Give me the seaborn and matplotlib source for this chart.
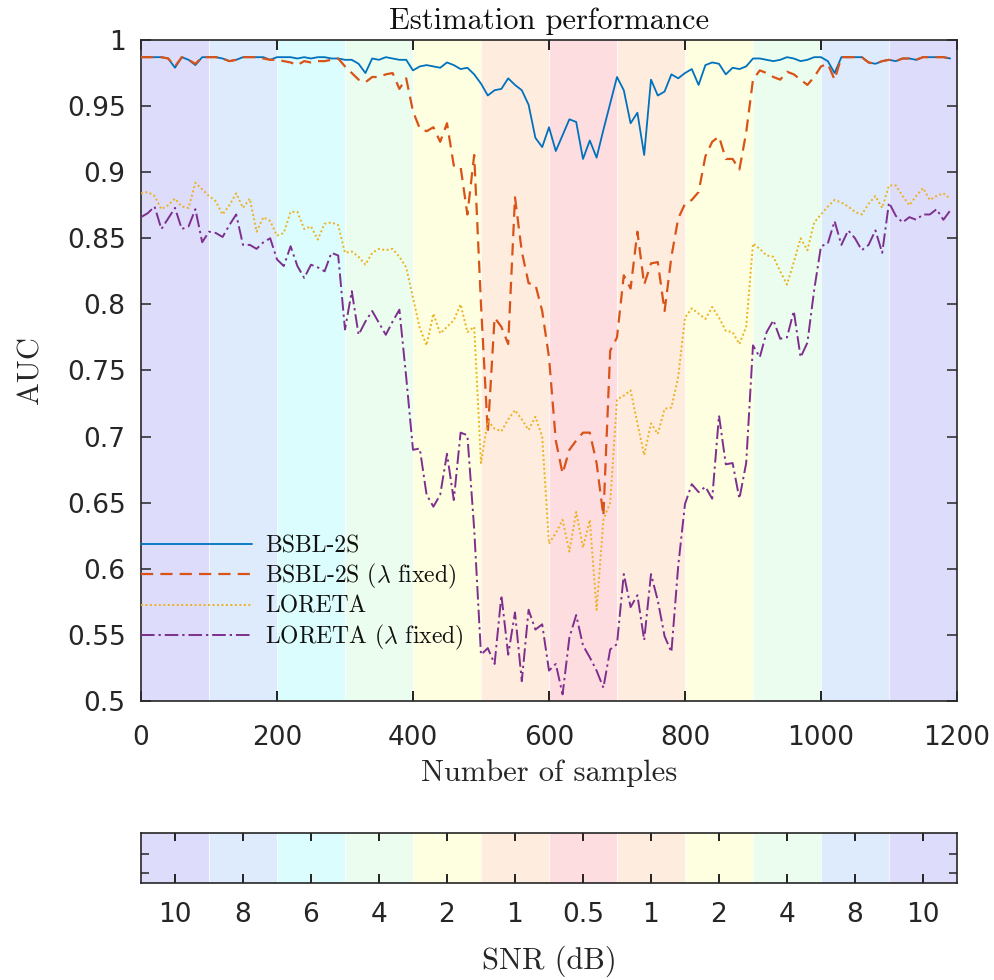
import numpy as np
import pandas as pd
import matplotlib
matplotlib.use("Agg")
import matplotlib.pyplot as plt
import matplotlib.transforms as mtransforms
from matplotlib.lines import Line2D
import seaborn as sns

# ---- data -------------------------------------------------------------
samples = np.arange(0, 1200, 10)

bsbl = [
    0.987, 0.987, 0.987, 0.987, 0.986, 0.979, 0.987, 0.985, 0.981, 0.987,
    0.987, 0.987, 0.986, 0.984, 0.985, 0.987, 0.987, 0.987, 0.987, 0.985,
    0.987, 0.987, 0.987, 0.986, 0.987, 0.986, 0.987, 0.987, 0.986, 0.986,
    0.985, 0.985, 0.982, 0.975, 0.986, 0.985, 0.987, 0.986, 0.985, 0.985,
    0.977, 0.980, 0.981, 0.980, 0.979, 0.983, 0.981, 0.978, 0.979, 0.974,
    0.967, 0.958, 0.962, 0.963, 0.971, 0.966, 0.962, 0.951, 0.926, 0.919,
    0.934, 0.916, 0.928, 0.940, 0.938, 0.910, 0.924, 0.911, 0.932, 0.952,
    0.972, 0.962, 0.937, 0.945, 0.913, 0.970, 0.958, 0.961, 0.974, 0.971,
    0.975, 0.978, 0.966, 0.981, 0.983, 0.982, 0.974, 0.979, 0.978, 0.980,
    0.986, 0.986, 0.985, 0.984, 0.985, 0.987, 0.986, 0.984, 0.985, 0.987,
    0.987, 0.984, 0.975, 0.987, 0.987, 0.987, 0.987, 0.983, 0.982, 0.984,
    0.985, 0.984, 0.986, 0.986, 0.985, 0.987, 0.987, 0.987, 0.987, 0.986,
]

bsbl_fixed = [
    0.987, 0.987, 0.987, 0.987, 0.986, 0.980, 0.987, 0.985, 0.982, 0.987,
    0.987, 0.987, 0.986, 0.984, 0.985, 0.987, 0.987, 0.987, 0.986, 0.985,
    0.985, 0.984, 0.983, 0.981, 0.984, 0.983, 0.984, 0.984, 0.985, 0.986,
    0.980, 0.975, 0.970, 0.968, 0.972, 0.972, 0.974, 0.975, 0.963, 0.971,
    0.946, 0.933, 0.931, 0.934, 0.923, 0.937, 0.905, 0.904, 0.868, 0.913,
    0.800, 0.703, 0.790, 0.783, 0.770, 0.881, 0.840, 0.816, 0.815, 0.795,
    0.760, 0.697, 0.672, 0.690, 0.697, 0.703, 0.703, 0.680, 0.640, 0.765,
    0.775, 0.822, 0.812, 0.855, 0.815, 0.831, 0.832, 0.795, 0.836, 0.865,
    0.876, 0.879, 0.885, 0.912, 0.923, 0.927, 0.910, 0.910, 0.902, 0.930,
    0.970, 0.977, 0.975, 0.972, 0.970, 0.976, 0.974, 0.970, 0.966, 0.972,
    0.980, 0.982, 0.970, 0.987, 0.987, 0.987, 0.987, 0.983, 0.982, 0.984,
    0.985, 0.984, 0.986, 0.986, 0.985, 0.987, 0.987, 0.987, 0.987, 0.986,
]

loreta = [
    0.884, 0.885, 0.882, 0.872, 0.875, 0.880, 0.874, 0.873, 0.892, 0.887,
    0.882, 0.878, 0.868, 0.875, 0.884, 0.873, 0.880, 0.855, 0.866, 0.863,
    0.852, 0.854, 0.870, 0.870, 0.857, 0.859, 0.849, 0.861, 0.862, 0.860,
    0.839, 0.840, 0.836, 0.830, 0.839, 0.842, 0.841, 0.842, 0.836, 0.828,
    0.805, 0.782, 0.769, 0.793, 0.778, 0.783, 0.788, 0.800, 0.779, 0.783,
    0.680, 0.712, 0.706, 0.704, 0.713, 0.720, 0.713, 0.705, 0.715, 0.700,
    0.619, 0.627, 0.637, 0.613, 0.643, 0.616, 0.637, 0.569, 0.637, 0.650,
    0.728, 0.731, 0.735, 0.710, 0.686, 0.710, 0.702, 0.721, 0.722, 0.745,
    0.790, 0.797, 0.793, 0.789, 0.798, 0.790, 0.780, 0.779, 0.770, 0.783,
    0.846, 0.842, 0.837, 0.836, 0.825, 0.815, 0.832, 0.850, 0.841, 0.862,
    0.868, 0.874, 0.879, 0.877, 0.874, 0.870, 0.868, 0.876, 0.882, 0.873,
    0.890, 0.890, 0.882, 0.875, 0.882, 0.888, 0.879, 0.882, 0.884, 0.880,
]

loreta_fixed = [
    0.866, 0.869, 0.874, 0.857, 0.865, 0.873, 0.857, 0.859, 0.872, 0.847,
    0.855, 0.854, 0.851, 0.860, 0.868, 0.845, 0.845, 0.842, 0.847, 0.850,
    0.834, 0.829, 0.844, 0.829, 0.820, 0.830, 0.828, 0.825, 0.839, 0.837,
    0.781, 0.810, 0.777, 0.787, 0.795, 0.786, 0.777, 0.787, 0.796, 0.745,
    0.690, 0.691, 0.656, 0.647, 0.656, 0.687, 0.652, 0.703, 0.701, 0.630,
    0.535, 0.540, 0.528, 0.580, 0.535, 0.567, 0.515, 0.569, 0.554, 0.558,
    0.523, 0.528, 0.505, 0.548, 0.565, 0.542, 0.533, 0.523, 0.510, 0.539,
    0.543, 0.596, 0.571, 0.580, 0.546, 0.596, 0.576, 0.549, 0.537, 0.602,
    0.649, 0.664, 0.658, 0.662, 0.653, 0.716, 0.679, 0.680, 0.653, 0.680,
    0.769, 0.760, 0.779, 0.788, 0.774, 0.775, 0.795, 0.760, 0.771, 0.811,
    0.844, 0.846, 0.863, 0.845, 0.856, 0.850, 0.841, 0.845, 0.856, 0.839,
    0.877, 0.867, 0.862, 0.866, 0.864, 0.868, 0.868, 0.872, 0.864, 0.871,
]

method_names = ["BSBL-2S", r"BSBL-2S ($\lambda$ fixed)", "LORETA", r"LORETA ($\lambda$ fixed)"]
method_colors = ["#0072BD", "#D95319", "#EDB120", "#7E2F8E"]

# SNR schedule: one band per 100 samples
band_edges = [0, 100, 200, 300, 400, 500, 600, 700, 800, 900, 1000, 1100, 1200]
snr_labels = ["10", "8", "6", "4", "2", "1", "0.5", "1", "2", "4", "8", "10"]
snr_colors = {
    "10": "#dddcfb", "8": "#ddebfd", "6": "#dcfdfd", "4": "#ebfdee",
    "2": "#fefee0", "1": "#feecdf", "0.5": "#fedde1",
}
x_ticks = [0, 200, 400, 600, 800, 1000, 1200]

# ---- style ------------------------------------------------------------
edge = "#262626"
sns.set_theme(style="white")
plt.rcParams.update({
    "font.family": ["DejaVu Sans"],
    "mathtext.fontset": "cm",
    "axes.axisbelow": False,
    "xtick.bottom": True, "xtick.top": True,
    "ytick.left": True, "ytick.right": True,
    "xtick.direction": "in", "ytick.direction": "in",
    "xtick.major.size": 7, "ytick.major.size": 7,
    "xtick.major.width": 1.1, "ytick.major.width": 1.1,
    "xtick.color": edge, "ytick.color": edge,
})
serif = ["cmr10", "DejaVu Serif"]

fig = plt.figure(figsize=(9.95, 9.8), dpi=100)
ax = fig.add_axes([0.1417, 0.2847, 0.8201, 0.6745])
cax = fig.add_axes([0.1417, 0.0990, 0.8201, 0.0510])

# SNR bands behind the curves
for i, lab in enumerate(snr_labels):
    ax.axvspan(band_edges[i], band_edges[i + 1], color=snr_colors[lab], lw=0, zorder=-2)
    cax.axvspan(i, i + 1, color=snr_colors[lab], lw=0, zorder=-2)
for e in band_edges[1:-1]:
    ax.axvline(e, color="white", lw=0.8, alpha=0.7, zorder=-1)
for i in range(1, len(snr_labels)):
    cax.axvline(i, color="white", lw=0.8, alpha=0.7, zorder=-1)

# curves
df = pd.DataFrame({
    "samples": np.tile(samples, 4),
    "AUC": np.concatenate([bsbl, bsbl_fixed, loreta, loreta_fixed]),
    "method": np.repeat(method_names, len(samples)),
})
dash_map = {
    method_names[0]: "",
    method_names[1]: (5.5, 3.2),
    method_names[2]: (1.0, 1.3),
    method_names[3]: (7.0, 2.0, 1.2, 2.0),
}
width_map = {method_names[0]: 1.3, method_names[1]: 1.6,
             method_names[2]: 1.4, method_names[3]: 1.4}
curve_handles = []
for name, col in zip(method_names, method_colors):
    sub = df[df["method"] == name]
    sns.lineplot(data=sub, x="samples", y="AUC", color=col, ax=ax,
                 lw=width_map[name], label=name, zorder=3)
    line = ax.lines[-1]
    if dash_map[name]:
        line.set_dashes(dash_map[name])
    curve_handles.append(line)

ax.set_xlim(0, 1200)
ax.set_ylim(0.5, 1.0)
ax.set_xticks(x_ticks)
yt = np.round(np.arange(0.5, 1.0001, 0.05), 2)
ax.set_yticks(yt)
ax.set_yticklabels([f"{v:g}" for v in yt])
ax.tick_params(direction="in", length=7, width=1.1, color=edge,
               bottom=True, left=True, top=True, right=True,
               labelsize=19, labelcolor="#262626")
ax.tick_params(axis="x", pad=17)
ax.tick_params(axis="y", pad=11)
ax.xaxis.set_zorder(5)
ax.yaxis.set_zorder(5)
for s in ax.spines.values():
    s.set_color(edge)
    s.set_linewidth(1.2)
ax.set_xlabel("Number of samples", fontsize=22, family=serif, labelpad=6, color="#262626")
ax.set_ylabel("AUC", fontsize=22, family=serif, labelpad=16, color="#262626")
ax.set_title("Estimation performance", fontsize=22, family=serif, pad=8, color="#111111")

leg = ax.legend(handles=curve_handles, labels=method_names,
                loc="upper left", bbox_to_anchor=(0.0, 0.251), frameon=False,
                handlelength=4.7, handletextpad=0.55, borderpad=0, borderaxespad=0,
                labelspacing=0.2, prop={"family": serif, "size": 17})
for t in leg.get_texts():
    t.set_color("#111111")

# SNR strip
cax.set_xlim(0, 12)
cax.set_ylim(0, 1)
cax.set_xticks(np.arange(12) + 0.5)
cax.set_xticklabels(snr_labels)
cax.set_yticks([0.2, 0.58])
cax.set_yticklabels([])
cax.tick_params(direction="in", length=6, width=1.1, color=edge,
                bottom=True, left=True, top=True, right=True,
                labelsize=19, labelcolor="#262626")
cax.tick_params(axis="x", pad=14)
cax.xaxis.set_zorder(5)
cax.yaxis.set_zorder(5)
for s in cax.spines.values():
    s.set_color(edge)
    s.set_linewidth(1.2)
cax.set_xlabel("SNR (dB)", fontsize=22, family=serif, labelpad=12, color="#262626")
cax.set_ylabel("")

# inward x tick marks, drawn at figure level on top of both panels
main_tr = mtransforms.blended_transform_factory(ax.transData, ax.transAxes)
for xt in x_ticks[1:-1]:
    for y0, y1 in ((0.0, 0.0147), (1 - 0.0147, 1.0)):
        fig.add_artist(Line2D([xt, xt], [y0, y1], transform=main_tr, color=edge,
                              lw=1.4, solid_capstyle="butt", zorder=10))
strip_tr = mtransforms.blended_transform_factory(cax.transData, cax.transAxes)
for xc in cax.get_xticks():
    for y0, y1 in ((0.0, 0.17), (0.83, 1.0)):
        fig.add_artist(Line2D([xc, xc], [y0, y1], transform=strip_tr, color=edge,
                              lw=1.4, solid_capstyle="butt", zorder=10))

fig.savefig("out.png", dpi=100, facecolor="white")
